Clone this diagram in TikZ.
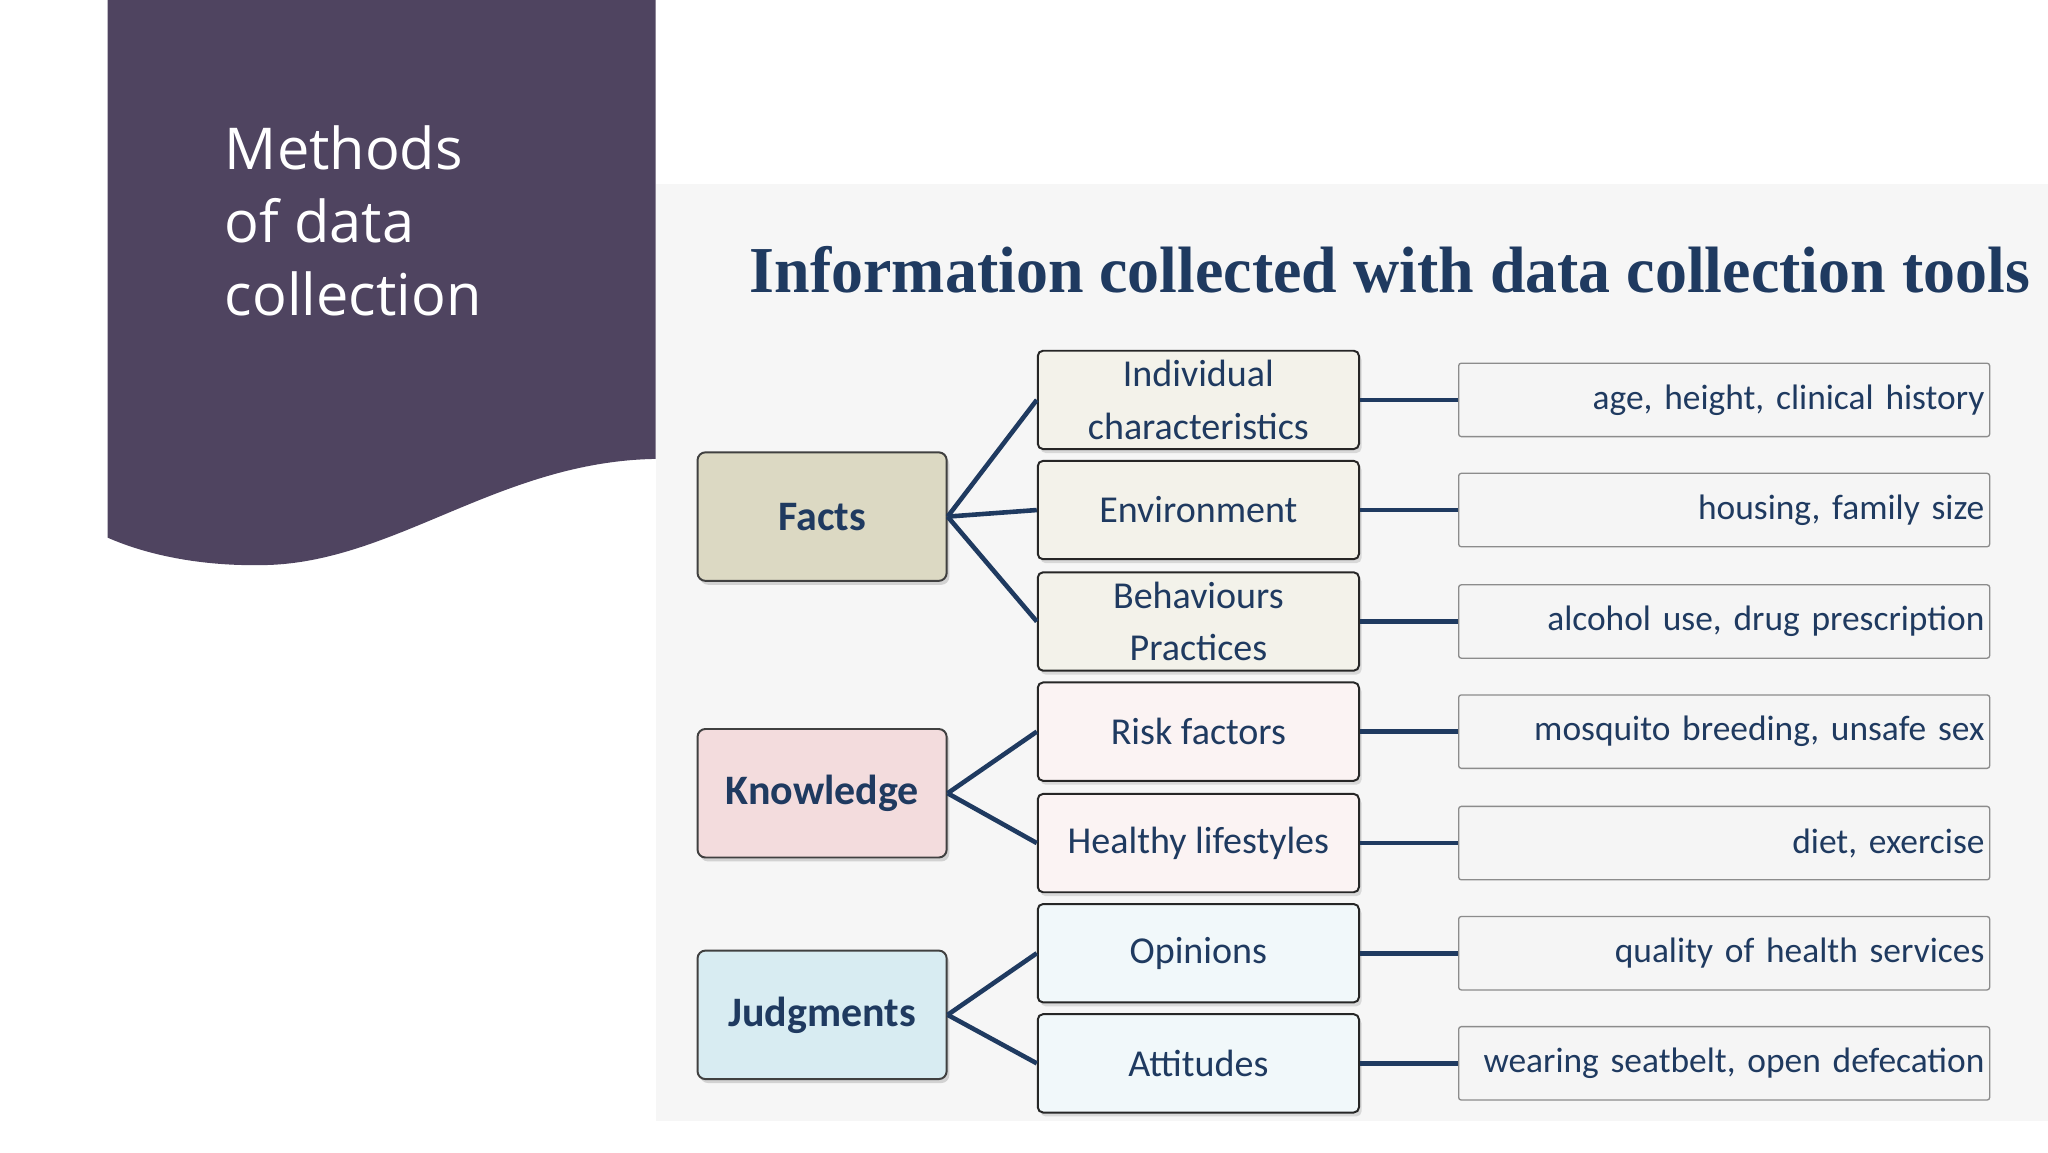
\documentclass[tikz,border=0pt]{standalone}
\usepackage{fontspec}
\setmainfont{Carlito}
\newfontfamily\titlefont{Open Sans}
\newfontfamily\headfont{Liberation Serif}
\usetikzlibrary{shadows}
\definecolor{panel}{HTML}{4F4460}
\definecolor{navy}{HTML}{1F3A60}
\definecolor{factc}{HTML}{DCD9C3}
\definecolor{knowc}{HTML}{F3DCDD}
\definecolor{judgc}{HTML}{D8ECF2}
\definecolor{bg}{HTML}{F6F6F6}
\tikzset{
 catbox/.style={draw=black!75,line width=1.5pt,rounded corners=6pt,minimum width=190pt,minimum height=98pt,font=\fontsize{32}{36}\selectfont\bfseries,text=navy,drop shadow={shadow xshift=2pt,shadow yshift=-3pt,opacity=0.3}},
 midbox/.style={draw=black!85,line width=1.5pt,rounded corners=4pt,minimum width=245pt,minimum height=75pt,font=\fontsize{29}{40}\selectfont,text=navy,align=center,drop shadow={shadow xshift=2pt,shadow yshift=-3pt,opacity=0.25}},
 exbox/.style={draw=black!45,line width=1pt,rounded corners=2pt,fill=black!4,minimum width=405pt,minimum height=56pt,font=\fontsize{27}{32}\selectfont,text=navy,text width=397pt,align=right},
 link/.style={navy,line width=3.5pt},
}
\begin{document}
\begin{tikzpicture}[x=1pt,y=-1pt]
\useasboundingbox (0,0) rectangle (1562,879);
\fill[white] (0,0) rectangle (1562,879);
\fill[panel] (82,0) -- (500,0) -- (500,350) .. controls (380,352) and (300,430) .. (200,431) .. controls (140,432) and (100,418) .. (82,410) -- cycle;
\node[anchor=north west,align=left,text=white,font=\titlefont\fontsize{44}{56}\selectfont] (title) at (168,92) {Methods\\of data\\collection};
\fill[bg] (500,140) rectangle (1562,855);
\node[font=\headfont\bfseries\fontsize{50}{56}\selectfont,text=navy,xscale=0.975] (head) at (1060,206) {Information collected with data collection tools};
\node[catbox,fill=factc] (facts) at (627,394) {Facts};
\node[catbox,fill=knowc] (know) at (627,605) {Knowledge};
\node[catbox,fill=judgc] (judg) at (627,774) {Judgments};
\foreach \n/\y/\t/\c in {m1/305/{Individual\\characteristics}/factc,m2/389/Environment/factc,m3/474/{Behaviours\\Practices}/factc,m4/558/Risk factors/knowc,m5/643/Healthy lifestyles/knowc,m6/727/Opinions/judgc,m7/811/Attitudes/judgc}
  \node[midbox,fill=\c!35] (\n) at (914,\y) {\t};
\foreach \n/\y/\t in {e1/305/{age, height, clinical history},e2/389/{housing, family size},e3/474/{alcohol use, drug prescription},e4/558/{mosquito breeding, unsafe sex},e5/643/{diet, exercise},e6/727/{quality of health services},e7/811/{wearing seatbelt, open defecation}}
  \node[exbox] (\n) at (1315,\y) {\t};
\foreach \i in {1,...,7} \draw[link] (m\i.east) -- (e\i.west);
\foreach \m in {m1,m2,m3} \draw[link] (facts.east) -- (\m.west);
\foreach \m in {m4,m5} \draw[link] (know.east) -- (\m.west);
\foreach \m in {m6,m7} \draw[link] (judg.east) -- (\m.west);
\end{tikzpicture}
\end{document}
